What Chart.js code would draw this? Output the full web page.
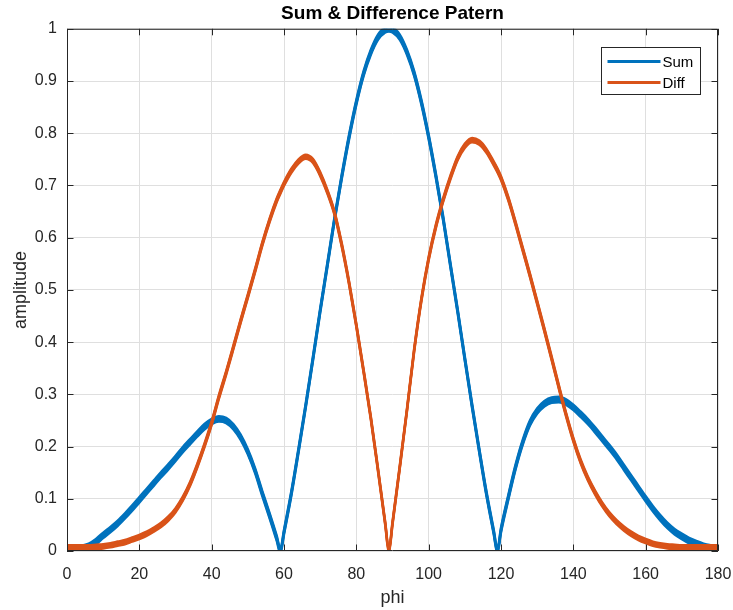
<!DOCTYPE html>
<html>
<head>
<meta charset="utf-8">
<script src="https://cdn.jsdelivr.net/npm/chart.js@4.4.1/dist/chart.umd.min.js"></script>
<style>
  html, body { margin: 0; padding: 0; background: #fff; }
  #wrap { width: 733px; height: 610px; }
</style>
</head>
<body>
<div id="wrap"><canvas id="chart" width="733" height="610"></canvas></div>
<script>
// angle samples (deg), nulls added at 59 / 89 / 119
const phi = [
  0, 2, 4, 6, 8, 10, 12, 14, 16, 18, 20, 22, 24, 26, 28, 30, 32, 34, 36, 38,
  40, 42, 44, 46, 48, 50, 52, 54, 56, 58, 59,
  60, 62, 64, 66, 68, 70, 72, 74, 76, 78, 80, 82, 84, 86, 88, 89,
  90, 92, 94, 96, 98, 100, 102, 104, 106, 108, 110, 112, 114, 116, 118, 119,
  120, 122, 124, 126, 128, 130, 132, 134, 136, 138, 140, 142, 144, 146, 148,
  150, 152, 154, 156, 158, 160, 162, 164, 166, 168, 170, 172, 174, 176, 178, 180
];

const sumPattern = [
  0.004, 0.004, 0.005, 0.009, 0.018, 0.030, 0.041, 0.053, 0.067, 0.082, 0.098, 0.114, 0.130, 0.146, 0.161, 0.177, 0.194, 0.209, 0.224, 0.238,
  0.248, 0.253, 0.250, 0.238, 0.218, 0.190, 0.154, 0.110, 0.068, 0.024, 0.0,
  0.036, 0.109, 0.192, 0.278, 0.368, 0.460, 0.548, 0.637, 0.718, 0.793, 0.859, 0.914, 0.955, 0.984, 0.998, 1.0,
  0.998, 0.984, 0.955, 0.914, 0.859, 0.793, 0.718, 0.637, 0.548, 0.460, 0.368, 0.278, 0.192, 0.109, 0.036, 0.0,
  0.040, 0.102, 0.160, 0.208, 0.245, 0.268, 0.282, 0.289, 0.290, 0.285, 0.275, 0.262, 0.248, 0.232, 0.215,
  0.198, 0.180, 0.160, 0.140, 0.120, 0.100, 0.081, 0.064, 0.049, 0.037, 0.028, 0.020, 0.014, 0.009, 0.006, 0.004
];

const diffPattern = [
  0.007, 0.007, 0.007, 0.007, 0.008, 0.009, 0.011, 0.014, 0.017, 0.022, 0.027, 0.033, 0.041, 0.050, 0.062, 0.078, 0.100, 0.128, 0.163, 0.202,
  0.245, 0.295, 0.341, 0.390, 0.440, 0.488, 0.537, 0.588, 0.633, 0.672, 0.688,
  0.703, 0.728, 0.746, 0.755, 0.747, 0.722, 0.688, 0.646, 0.585, 0.513, 0.432, 0.345, 0.255, 0.155, 0.052, 0.0,
  0.053, 0.160, 0.270, 0.385, 0.482, 0.560, 0.622, 0.672, 0.715, 0.752, 0.776, 0.787, 0.782, 0.766, 0.742, 0.729,
  0.714, 0.675, 0.628, 0.578, 0.528, 0.476, 0.423, 0.369, 0.314, 0.261, 0.213, 0.172, 0.139, 0.112, 0.089,
  0.070, 0.055, 0.043, 0.033, 0.025, 0.019, 0.014, 0.011, 0.009, 0.008, 0.007, 0.007, 0.007, 0.007, 0.007, 0.007
];

const xTicks = [0, 20, 40, 60, 80, 100, 120, 140, 160, 180];
const xTickLabels = ["0", "20", "40", "60", "80", "100", "120", "140", "160", "180"];
const yTicks = [0, 0.1, 0.2, 0.3, 0.4, 0.5, 0.6, 0.7, 0.8, 0.9, 1];
const yTickLabels = ["0", "0.1", "0.2", "0.3", "0.4", "0.5", "0.6", "0.7", "0.8", "0.9", "1"];

const axisColor = "#262626";
const gridColor = "#dfdfdf";
const fontFamily = "'Liberation Sans', Arial, sans-serif";

// the curves in the picture are a thin noisy band, redraw the line shifted up/down a bit
const bandPlugin = {
  id: "band",
  beforeDatasetDraw(chart, args) {
    const ctx = chart.ctx;
    const area = chart.chartArea;
    const shift = chart.data.datasets[args.index].band || 0;
    if (!shift) return;
    ctx.save();
    ctx.beginPath();
    ctx.rect(area.left, area.top, area.right - area.left, area.bottom - area.top);
    ctx.clip();
    [-shift, -shift / 2, shift / 2, shift].forEach((dy) => {
      ctx.save();
      ctx.translate(0, dy);
      args.meta.dataset.draw(ctx, area);
      ctx.restore();
    });
    ctx.restore();
  },
};

// box round the axes with ticks pointing inwards, like matlab
const framePlugin = {
  id: "frame",
  afterDatasetsDraw(chart) {
    const ctx = chart.ctx;
    const { left, right, top, bottom } = chart.chartArea;
    const xs = chart.scales.x;
    const ys = chart.scales.y;
    const tl = 6.5;
    ctx.save();
    ctx.strokeStyle = axisColor;
    ctx.lineWidth = 1;
    ctx.beginPath();
    ctx.rect(left + 0.5, top + 0.5, right - left - 1, bottom - top - 1);
    ctx.stroke();
    ctx.beginPath();
    xTicks.forEach((v) => {
      const px = Math.round(xs.getPixelForValue(v)) + 0.5;
      ctx.moveTo(px, bottom);
      ctx.lineTo(px, bottom - tl);
      ctx.moveTo(px, top);
      ctx.lineTo(px, top + tl);
    });
    yTicks.forEach((v) => {
      const py = Math.round(ys.getPixelForValue(v)) + 0.5;
      ctx.moveTo(left, py);
      ctx.lineTo(left + tl, py);
      ctx.moveTo(right, py);
      ctx.lineTo(right - tl, py);
    });
    ctx.stroke();
    ctx.restore();
  },
};

const legendPlugin = {
  id: "boxLegend",
  afterDraw(chart) {
    const ctx = chart.ctx;
    const area = chart.chartArea;
    const w = 99, h = 47;
    const x0 = Math.round(area.right - 18 - w) + 0.5;
    const y0 = Math.round(area.top + 18) + 0.5;
    ctx.save();
    ctx.fillStyle = "#ffffff";
    ctx.fillRect(x0, y0, w, h);
    ctx.strokeStyle = axisColor;
    ctx.lineWidth = 1;
    ctx.strokeRect(x0, y0, w, h);
    ctx.font = "15px " + fontFamily;
    ctx.textBaseline = "middle";
    ctx.textAlign = "left";
    chart.data.datasets.forEach((ds, i) => {
      const cy = y0 + 14 + i * 21;
      ctx.strokeStyle = ds.borderColor;
      ctx.lineWidth = 3;
      ctx.beginPath();
      ctx.moveTo(x0 + 6, cy);
      ctx.lineTo(x0 + 59, cy);
      ctx.stroke();
      ctx.fillStyle = "#000000";
      ctx.fillText(ds.label, x0 + 61, cy + 1);
    });
    ctx.restore();
  },
};

const ctx = document.getElementById("chart").getContext("2d");

new Chart(ctx, {
  type: "line",
  data: {
    datasets: [
      {
        label: "Sum",
        data: phi.map((p, i) => ({ x: p, y: sumPattern[i] })),
        borderColor: "#0072BD",
        borderWidth: 2.3,
        band: 2.8,
        order: 1,
      },
      {
        label: "Diff",
        data: phi.map((p, i) => ({ x: p, y: diffPattern[i] })),
        borderColor: "#D95319",
        borderWidth: 2.3,
        band: 2.2,
        order: 0,
      },
    ],
  },
  options: {
    responsive: false,
    animation: false,
    events: [],
    elements: {
      point: { radius: 0 },
      line: { cubicInterpolationMode: "monotone", borderJoinStyle: "round", borderCapStyle: "round", fill: false },
    },
    layout: { padding: { left: 0, right: 15, top: 0, bottom: 0 } },
    plugins: {
      legend: { display: false },
      tooltip: { enabled: false },
      title: {
        display: true,
        fullSize: false,
        text: "Sum & Difference Patern",
        color: "#000000",
        font: { family: fontFamily, size: 19, weight: "bold", lineHeight: 1.2 },
        padding: { top: 2, bottom: 4 },
      },
    },
    scales: {
      x: {
        type: "linear",
        min: 0,
        max: 180,
        afterBuildTicks: (scale) => {
          scale.ticks = xTicks.map((v) => ({ value: v }));
        },
        afterFit: (scale) => {
          scale.height = 59;
          scale.paddingLeft = 0;
          scale.paddingRight = 0;
        },
        ticks: {
          callback: (v) => xTickLabels[xTicks.indexOf(v)],
          color: axisColor,
          font: { family: fontFamily, size: 16 },
          padding: 14,
          maxRotation: 0,
        },
        grid: { color: gridColor, lineWidth: 1, drawTicks: false },
        border: { display: false },
        title: {
          display: true,
          text: "phi",
          color: axisColor,
          font: { family: fontFamily, size: 18, lineHeight: 1.2 },
          padding: { top: 0, bottom: 1 },
        },
      },
      y: {
        type: "linear",
        min: 0,
        max: 1,
        afterBuildTicks: (scale) => {
          scale.ticks = yTicks.map((v) => ({ value: v }));
        },
        afterFit: (scale) => {
          scale.width = 67;
          scale.paddingTop = 0;
          scale.paddingBottom = 0;
        },
        ticks: {
          callback: (v) => yTickLabels[yTicks.indexOf(v)],
          color: axisColor,
          font: { family: fontFamily, size: 16 },
          padding: 10,
        },
        grid: { color: gridColor, lineWidth: 1, drawTicks: false },
        border: { display: false },
        title: {
          display: true,
          text: "amplitude",
          color: axisColor,
          font: { family: fontFamily, size: 18, lineHeight: 1.2 },
          padding: { top: 10, bottom: 0 },
        },
      },
    },
  },
  plugins: [bandPlugin, framePlugin, legendPlugin],
});
</script>
</body>
</html>
